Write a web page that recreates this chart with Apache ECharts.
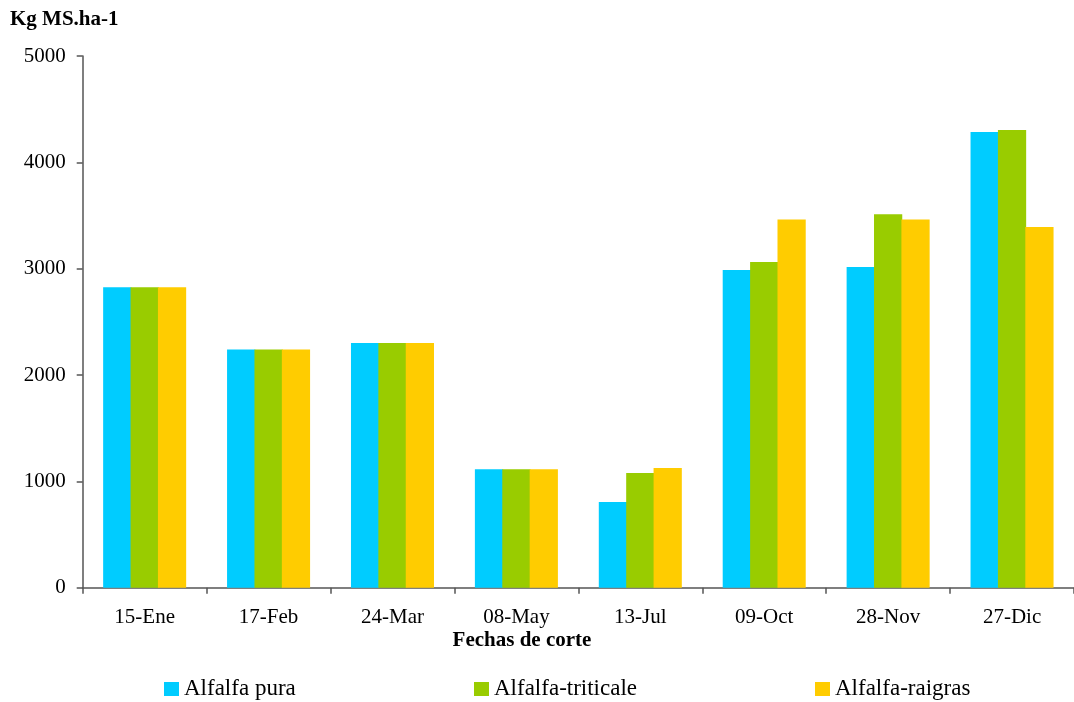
<!DOCTYPE html>
<html>
<head>
<meta charset="utf-8">
<script src="https://cdn.jsdelivr.net/npm/echarts@6/dist/echarts.min.js"></script>
<style>
  html, body { margin: 0; padding: 0; background: #fff; }
  #chart { width: 1074px; height: 702px; }
</style>
</head>
<body>
<div id="chart"></div>
<script>
// Cutting dates and dry-matter yield (kg MS/ha) per mixture
const fechas = ['15-Ene', '17-Feb', '24-Mar', '08-May', '13-Jul', '09-Oct', '28-Nov', '27-Dic'];
const alfalfaPura = [2825, 2240, 2300, 1115, 806, 2988, 3015, 4285];
const alfalfaTriticale = [2825, 2240, 2300, 1115, 1079, 3062, 3512, 4303];
const alfalfaRaigras = [2825, 2240, 2300, 1115, 1125, 3462, 3462, 3392];
const yTicks = { min: 0, max: 5000, interval: 1000 };

const FONT = '"Liberation Serif", "Times New Roman", serif';
const AXIS_COLOR = '#555';

const chart = echarts.init(document.getElementById('chart'), null, { renderer: 'canvas' });

function barSeries(name, data, color) {
  return {
    name: name,
    type: 'bar',
    data: data,
    barGap: '-3%',
    barCategoryGap: '33%',
    itemStyle: { color: color, borderWidth: 0 },
    animation: false
  };
}

function legendItem(name, left) {
  return {
    data: [name],
    left: left,
    top: 670,
    itemWidth: 15,
    itemHeight: 14,
    itemGap: 7,
    icon: 'rect',
    textStyle: { fontFamily: FONT, fontSize: 23, lineHeight: 28, color: '#000' }
  };
}

chart.setOption({
  backgroundColor: '#fff',
  animation: false,
  grid: { left: 82.7, right: 0, top: 56, bottom: 114.3, containLabel: false },
  legend: [
    legendItem('Alfalfa pura', 159),
    legendItem('Alfalfa-triticale', 469),
    legendItem('Alfalfa-raigras', 810)
  ],
  xAxis: {
    type: 'category',
    data: fechas,
    axisLine: { show: true, lineStyle: { color: AXIS_COLOR, width: 1.5 } },
    axisTick: { show: true, alignWithLabel: false, length: 6, lineStyle: { color: AXIS_COLOR, width: 1.5 } },
    axisLabel: { fontFamily: FONT, fontSize: 21, color: '#000', margin: 19 },
    splitLine: { show: false }
  },
  yAxis: {
    type: 'value',
    min: yTicks.min,
    max: yTicks.max,
    interval: yTicks.interval,
    axisLine: { show: true, lineStyle: { color: AXIS_COLOR, width: 1.5 } },
    axisTick: { show: true, length: 6, lineStyle: { color: AXIS_COLOR, width: 1.5 } },
    axisLabel: { fontFamily: FONT, fontSize: 21, color: '#000', margin: 17, formatter: v => String(v) },
    splitLine: { show: false }
  },
  graphic: [
    {
      type: 'text', left: 10, top: 9,
      style: { text: 'Kg MS.ha-1', font: 'bold 21px ' + FONT, fill: '#000' }
    },
    {
      type: 'text', x: 522, y: 641,
      style: { text: 'Fechas de corte', font: 'bold 21px ' + FONT, fill: '#000', align: 'center', verticalAlign: 'middle' }
    }
  ],
  series: [
    barSeries('Alfalfa pura', alfalfaPura, '#00CCFF'),
    barSeries('Alfalfa-triticale', alfalfaTriticale, '#99CC00'),
    barSeries('Alfalfa-raigras', alfalfaRaigras, '#FFCC00')
  ]
});
</script>
</body>
</html>
